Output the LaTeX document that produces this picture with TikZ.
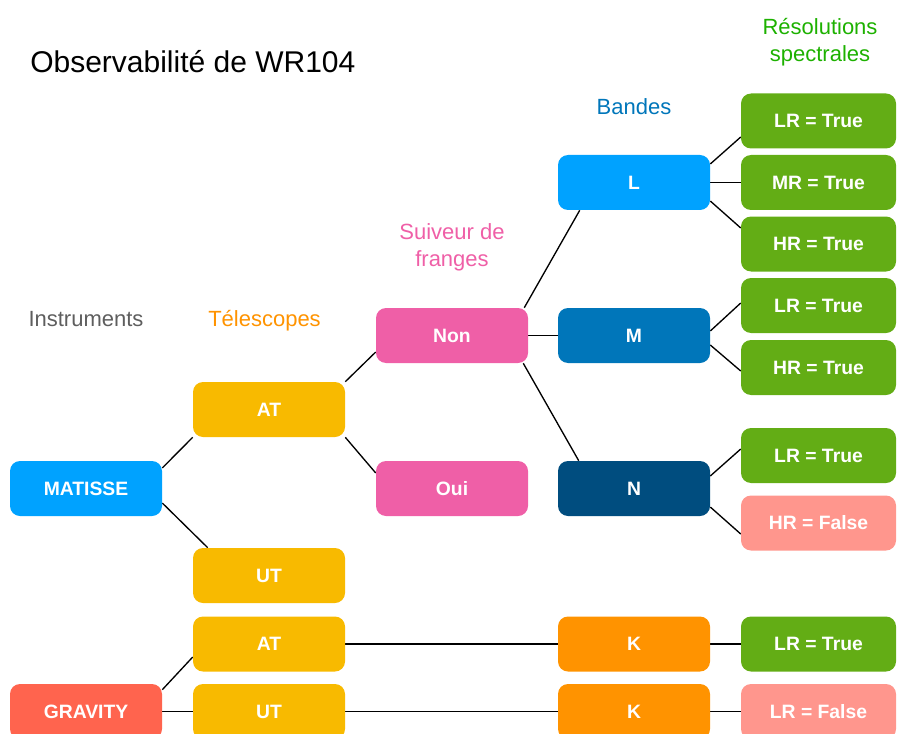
\documentclass[tikz,border=0pt]{standalone}
\usepackage{fontspec}
\setmainfont{Liberation Sans}
\usetikzlibrary{calc,backgrounds}
\definecolor{bleuvif}{HTML}{00A2FF}
\definecolor{bleumoyen}{HTML}{0076BA}
\definecolor{bleufonce}{HTML}{004D7F}
\definecolor{jaune}{HTML}{F8BA00}
\definecolor{rose}{HTML}{EF5FA7}
\definecolor{vertreso}{HTML}{63AD15}
\definecolor{vertclair}{HTML}{1DB100}
\definecolor{saumon}{HTML}{FF968D}
\definecolor{rouge}{HTML}{FF644E}
\definecolor{orangek}{HTML}{FF9300}
\definecolor{gris}{HTML}{5E5E5E}
\begin{document}
\begin{tikzpicture}[x=0.75pt,y=-0.75pt,
	boite/.style={rounded corners=7.5pt,minimum width=114pt,minimum height=41.25pt,inner sep=0pt,text=white,font=\fontsize{14.5}{17}\selectfont\bfseries},
	reso/.style={boite,minimum width=116.25pt,fill=vertreso},
	titre/.style={font=\fontsize{16.5}{20}\selectfont,align=center,inner sep=0pt},
	lien/.style={black,line width=1pt}]
	\useasboundingbox (0,0) rectangle (898,734);
	\clip (0,0) rectangle (898,734);
	\node[titre,anchor=base west,font=\fontsize{22.5}{27}\selectfont] (titre) at (30,73) {Observabilité de WR104};
	\node[titre,anchor=base,text=gris] (instr) at (86,326) {Instruments};
	\node[titre,anchor=base,text=orangek] (telesc) at (264.5,326) {Télescopes};
	\node[titre,text=rose] (suiveur) at (452,247) {Suiveur de\\franges};
	\node[titre,anchor=base,text=bleumoyen] (bandes) at (634,115) {Bandes};
	\node[titre,text=vertclair] (resol) at (820,42) {Résolutions\\spectrales};
	\node[boite,fill=bleuvif] (matisse) at (86,488.5) {MATISSE};
	\node[boite,fill=jaune] (at) at (269,409.5) {AT};
	\node[boite,fill=jaune] (ut) at (269,575.5) {UT};
	\node[boite,fill=rose] (non) at (452,335.5) {Non};
	\node[boite,fill=rose] (oui) at (452,488.5) {Oui};
	\node[boite,fill=bleuvif] (l) at (634,182.5) {L};
	\node[boite,fill=bleumoyen] (m) at (634,335.5) {M};
	\node[boite,fill=bleufonce] (n) at (634,488.5) {N};
	\node[reso] (lrl) at (818.5,121) {LR = True};
	\node[reso] (mrl) at (818.5,182.5) {MR = True};
	\node[reso] (hrl) at (818.5,244) {HR = True};
	\node[reso] (lrm) at (818.5,305.5) {LR = True};
	\node[reso] (hrm) at (818.5,367.5) {HR = True};
	\node[reso] (lrn) at (818.5,455.5) {LR = True};
	\node[reso,fill=saumon] (hrn) at (818.5,523) {HR = False};
	\node[boite,fill=rouge] (gravity) at (86,711.5) {GRAVITY};
	\node[boite,fill=jaune] (atg) at (269,644) {AT};
	\node[boite,fill=jaune] (utg) at (269,711.5) {UT};
	\node[boite,fill=orangek] (katg) at (634,644) {K};
	\node[boite,fill=orangek] (kutg) at (634,711.5) {K};
	\node[reso] (lrk) at (818.5,644) {LR = True};
	\node[reso,fill=saumon] (lrf) at (818.5,711.5) {LR = False};
	\begin{scope}[on background layer]
		\draw[lien] ($(matisse.east)+(0,-20.5)$) -- (at.south west);
		\draw[lien] ($(matisse.east)+(0,14.5)$) -- ($(ut.north west)+(15,0)$);
		\draw[lien] (at.north east) -- ($(non.west)+(0,16.5)$);
		\draw[lien] (at.south east) -- ($(oui.west)+(0,-15.5)$);
		\draw[lien] ($(non.north east)+(-4,0)$) -- ($(l.south west)+(22,0)$);
		\draw[lien] (non) -- (m);
		\draw[lien] ($(non.south east)+(-5,0)$) -- ($(n.north west)+(21,0)$);
		\draw[lien] ($(l.east)+(0,-18.5)$) -- ($(lrl.west)+(0,16)$);
		\draw[lien] (l) -- (mrl);
		\draw[lien] ($(l.east)+(0,18.5)$) -- ($(hrl.west)+(0,-16)$);
		\draw[lien] ($(m.east)+(0,-4.5)$) -- ($(lrm.west)+(0,-2.5)$);
		\draw[lien] ($(m.east)+(0,9.5)$) -- ($(hrm.west)+(0,3.5)$);
		\draw[lien] ($(n.east)+(0,-12.5)$) -- ($(lrn.west)+(0,-6.5)$);
		\draw[lien] ($(n.east)+(0,18.5)$) -- ($(hrn.west)+(0,11)$);
		\draw[lien] ($(gravity.north east)+(0,6)$) -- ($(atg.west)+(0,13)$);
		\draw[lien] (gravity) -- (utg);
		\draw[lien] (atg) -- (katg) -- (lrk);
		\draw[lien] (utg) -- (kutg) -- (lrf);
	\end{scope}
\end{tikzpicture}
\end{document}
